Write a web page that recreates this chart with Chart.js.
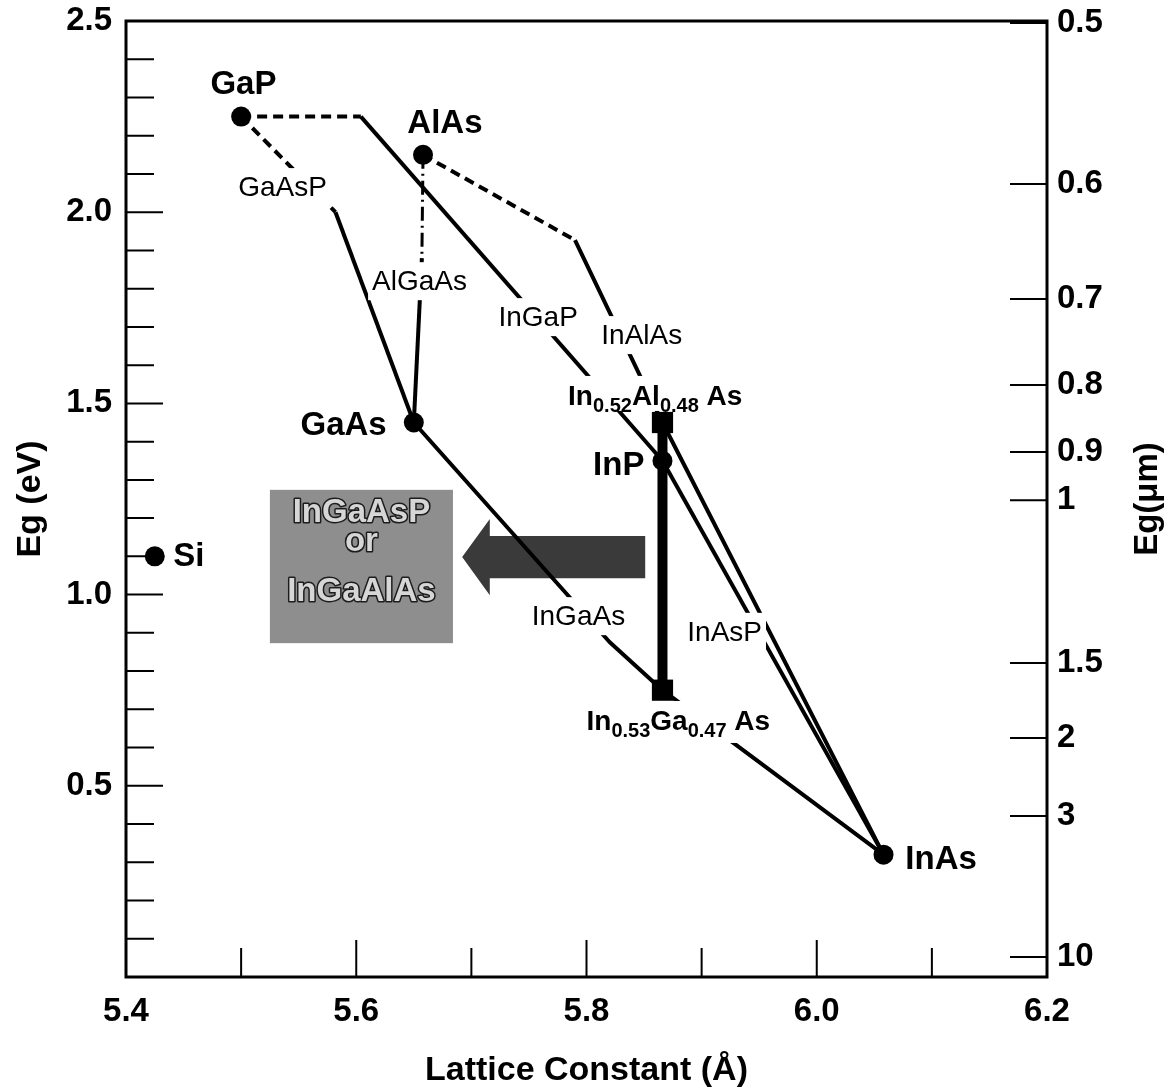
<!DOCTYPE html>
<html>
<head>
<meta charset="utf-8">
<title>Band gap vs lattice constant</title>
<script src="https://cdn.jsdelivr.net/npm/chart.js@4.4.1/dist/chart.umd.min.js"></script>
<style>
	html, body { margin: 0; padding: 0; background: #fff; }
	canvas { display: block; }
</style>
</head>
<body>
<canvas id="chart" width="1175" height="1091"></canvas>
<script>
'use strict';

// binary compounds: lattice constant (A) and band gap (eV)
const binaryNames = ['Si', 'GaP', 'AlAs', 'GaAs', 'InP', 'InAs'];
const binaryA = [5.425, 5.50, 5.658, 5.65, 5.866, 6.058];
const binaryEg = [1.10, 2.25, 2.15, 1.45, 1.35, 0.32];

// alloys lattice matched to InP
const matchedNames = ['In0.52Al0.48As', 'In0.53Ga0.47As'];
const matchedA = [5.866, 5.866];
const matchedEg = [1.45, 0.75];

// ternary curves, dashed part = indirect gap, solid part = direct gap
const gaAsPIndirect = [[5.50, 2.25], [5.582, 2.00]];
const gaAsPDirect = [[5.582, 2.00], [5.65, 1.45]];
const alGaAsIndirect = [[5.658, 2.15], [5.657, 1.88]];
const alGaAsDirect = [[5.657, 1.88], [5.65, 1.45]];
const inGaPIndirect = [[5.50, 2.25], [5.604, 2.25]];
const inGaPDirect = [[5.604, 2.25], [5.866, 1.35]];
const inAlAsIndirect = [[5.658, 2.15], [5.79, 1.927]];
const inAlAsDirect = [[5.79, 1.927], [5.866, 1.45], [6.058, 0.32]];
const inGaAsCurve = [[5.65, 1.45], [5.82, 0.876], [5.866, 0.75], [6.058, 0.32]];
const inAsPCurve = [[5.866, 1.35], [6.058, 0.32]];

// axis ticks
const aTicks = [5.4, 5.6, 5.8, 6.0, 6.2];
const aTickLabels = ['5.4', '5.6', '5.8', '6.0', '6.2'];
const aMinorTicks = [5.5, 5.7, 5.9, 6.1];
const egTicks = [0.5, 1.0, 1.5, 2.0, 2.5];
const egTickLabels = ['0.5', '1.0', '1.5', '2.0', '2.5'];
const egMinorTicks = [0.1, 0.2, 0.3, 0.4, 0.6, 0.7, 0.8, 0.9, 1.1, 1.2, 1.3, 1.4, 1.6, 1.7, 1.8, 1.9, 2.1, 2.2, 2.3, 2.4];
const lambdaTickEg = [2.495, 2.074, 1.773, 1.548, 1.373, 1.247, 0.821, 0.625, 0.421, 0.052];
const lambdaTickLabels = ['0.5', '0.6', '0.7', '0.8', '0.9', '1', '1.5', '2', '3', '10'];

const FONT = "'Liberation Sans', Arial, Helvetica, sans-serif";
Chart.defaults.font.family = FONT;
Chart.defaults.color = '#000';

// where the annotation texts sit, in axis units
const pointLabels = [
	{ text: 'Si', a: 5.441, eg: 1.098, align: 'left' },
	{ text: 'GaP', a: 5.502, eg: 2.333 },
	{ text: 'AlAs', a: 5.677, eg: 2.231 },
	{ text: 'GaAs', a: 5.589, eg: 1.441 },
	{ text: 'InP', a: 5.828, eg: 1.336 },
	{ text: 'InAs', a: 6.108, eg: 0.306 }
];
const curveLabels = [
	{ text: 'GaAsP', a: 5.536, eg: 2.063 },
	{ text: 'AlGaAs', a: 5.655, eg: 1.817 },
	{ text: 'InGaP', a: 5.758, eg: 1.723 },
	{ text: 'InAlAs', a: 5.848, eg: 1.676 },
	{ text: 'InGaAs', a: 5.793, eg: 0.941 },
	{ text: 'InAsP', a: 5.920, eg: 0.900 }
];
const matchedLabelPos = [{ a: 5.784, eg: 1.496 }, { a: 5.800, eg: 0.646 }];
const grayBox = { a0: 5.525, a1: 5.684, eg0: 0.873, eg1: 1.274 };
const grayBoxLines = [['InGaAsP', 1.213], ['or', 1.138], ['InGaAlAs', 1.007]];
const bigArrow = { tip: 5.692, head: 5.716, tail: 5.851, eg: 1.098, shaft: 0.055, wing: 0.10 };

const toXY = (pts) => pts.map((p) => ({ x: p[0], y: p[1] }));

function curve(pts, width, dash) {
	return {
		data: toXY(pts),
		showLine: true,
		borderColor: '#000',
		backgroundColor: '#000',
		borderWidth: width,
		borderDash: dash || [],
		borderJoinStyle: 'round',
		pointRadius: 0,
		pointHoverRadius: 0,
		fill: false
	};
}

function zeroPadding(scale) {
	scale.paddingTop = 0;
	scale.paddingBottom = 0;
	scale.paddingLeft = 0;
	scale.paddingRight = 0;
}

function splitFormula(name) {
	// 'In0.52Al0.48As' -> [['In',0],['0.52',1],['Al',0],['0.48',1],[' As',0]]
	const parts = [];
	const re = /([A-Z][a-z]?)([\d.]*)/g;
	let m;
	while ((m = re.exec(name)) !== null) {
		parts.push([m[1], 0]);
		if (m[2]) parts.push([m[2], 1]);
	}
	parts[parts.length - 1][0] = ' ' + parts[parts.length - 1][0];
	return parts;
}

const decorPlugin = {
	id: 'decor',
	beforeDatasetsDraw(chart) {
		const ctx = chart.ctx;
		const xs = chart.scales.x;
		const ys = chart.scales.y;
		ctx.save();
		// gray box with the quaternary names
		const bx0 = xs.getPixelForValue(grayBox.a0);
		const bx1 = xs.getPixelForValue(grayBox.a1);
		const by0 = ys.getPixelForValue(grayBox.eg1);
		const by1 = ys.getPixelForValue(grayBox.eg0);
		ctx.fillStyle = '#8e8e8e';
		ctx.fillRect(bx0, by0, bx1 - bx0, by1 - by0);
		ctx.font = 'bold 33px ' + FONT;
		ctx.textAlign = 'center';
		ctx.textBaseline = 'middle';
		ctx.lineWidth = 3;
		ctx.lineJoin = 'round';
		ctx.strokeStyle = '#1c1c1c';
		ctx.fillStyle = '#d6d6d6';
		const cx = (bx0 + bx1) / 2;
		grayBoxLines.forEach(function (line) {
			const y = ys.getPixelForValue(line[1]);
			ctx.strokeText(line[0], cx, y);
			ctx.fillText(line[0], cx, y);
		});
		// big arrow pointing left
		const tipX = xs.getPixelForValue(bigArrow.tip);
		const headX = xs.getPixelForValue(bigArrow.head);
		const tailX = xs.getPixelForValue(bigArrow.tail);
		const midY = ys.getPixelForValue(bigArrow.eg);
		const sTop = ys.getPixelForValue(bigArrow.eg + bigArrow.shaft);
		const sBot = ys.getPixelForValue(bigArrow.eg - bigArrow.shaft);
		const wTop = ys.getPixelForValue(bigArrow.eg + bigArrow.wing);
		const wBot = ys.getPixelForValue(bigArrow.eg - bigArrow.wing);
		ctx.beginPath();
		ctx.moveTo(tipX, midY);
		ctx.lineTo(headX, wTop);
		ctx.lineTo(headX, sTop);
		ctx.lineTo(tailX, sTop);
		ctx.lineTo(tailX, sBot);
		ctx.lineTo(headX, sBot);
		ctx.lineTo(headX, wBot);
		ctx.closePath();
		ctx.fillStyle = '#3a3a3a';
		ctx.fill();
		ctx.restore();
	},
	afterDatasetsDraw(chart) {
		const ctx = chart.ctx;
		const xs = chart.scales.x;
		const ys = chart.scales.y;
		ctx.save();
		ctx.textBaseline = 'middle';
		// curve names, cut out of the lines
		ctx.font = '28px ' + FONT;
		ctx.textAlign = 'center';
		curveLabels.forEach(function (l) {
			const x = xs.getPixelForValue(l.a);
			const y = ys.getPixelForValue(l.eg);
			const w = ctx.measureText(l.text).width;
			ctx.fillStyle = '#fff';
			ctx.fillRect(x - w / 2 - 4, y - 20, w + 8, 38);
			ctx.fillStyle = '#000';
			ctx.fillText(l.text, x, y);
		});
		// binary names
		ctx.font = 'bold 33px ' + FONT;
		pointLabels.forEach(function (l) {
			ctx.textAlign = l.align || 'center';
			ctx.fillText(l.text, xs.getPixelForValue(l.a), ys.getPixelForValue(l.eg));
		});
		// lattice matched alloys with subscripts
		ctx.textAlign = 'left';
		ctx.textBaseline = 'alphabetic';
		matchedNames.forEach(function (name, i) {
			const parts = splitFormula(name);
			const x0 = xs.getPixelForValue(matchedLabelPos[i].a);
			const base = ys.getPixelForValue(matchedLabelPos[i].eg);
			let width = 0;
			parts.forEach(function (p) {
				ctx.font = p[1] ? 'bold 20px ' + FONT : 'bold 28px ' + FONT;
				width += ctx.measureText(p[0]).width;
			});
			ctx.fillStyle = '#fff';
			ctx.fillRect(x0 - 5, base - 29, width + 10, i === 0 ? 35 : 42);
			ctx.fillStyle = '#000';
			let x = x0;
			parts.forEach(function (p) {
				ctx.font = p[1] ? 'bold 20px ' + FONT : 'bold 28px ' + FONT;
				ctx.fillText(p[0], x, p[1] ? base + 7 : base);
				x += ctx.measureText(p[0]).width;
			});
		});
		ctx.restore();
	},
	afterDraw(chart) {
		const ctx = chart.ctx;
		const area = chart.chartArea;
		const xs = chart.scales.x;
		const ys = chart.scales.y;
		const ys2 = chart.scales.y2;
		ctx.save();
		ctx.strokeStyle = '#000';
		ctx.lineWidth = 2;
		ctx.beginPath();
		aTicks.forEach(function (v) {
			const px = xs.getPixelForValue(v);
			if (px > area.left + 2 && px < area.right - 2) {
				ctx.moveTo(px, area.bottom);
				ctx.lineTo(px, area.bottom - 37);
			}
		});
		aMinorTicks.forEach(function (v) {
			const px = xs.getPixelForValue(v);
			ctx.moveTo(px, area.bottom);
			ctx.lineTo(px, area.bottom - 29);
		});
		egTicks.forEach(function (v) {
			const py = ys.getPixelForValue(v);
			if (py > area.top + 2) {
				ctx.moveTo(area.left, py);
				ctx.lineTo(area.left + 37, py);
			}
		});
		egMinorTicks.forEach(function (v) {
			const py = ys.getPixelForValue(v);
			ctx.moveTo(area.left, py);
			ctx.lineTo(area.left + 28, py);
		});
		lambdaTickEg.forEach(function (v) {
			const py = ys2.getPixelForValue(v);
			ctx.moveTo(area.right, py);
			ctx.lineTo(area.right - 37, py);
		});
		ctx.stroke();
		// frame
		ctx.lineWidth = 3;
		ctx.strokeRect(area.left, area.top, area.right - area.left, area.bottom - area.top);
		// right axis title reads bottom to top
		ctx.translate(chart.width - 27, (area.top + area.bottom) / 2);
		ctx.rotate(-Math.PI / 2);
		ctx.font = 'bold 33px ' + FONT;
		ctx.fillStyle = '#000';
		ctx.textAlign = 'center';
		ctx.textBaseline = 'middle';
		ctx.fillText('Eg(\u03bcm)', 0, 0);
		ctx.restore();
	}
};

const binaryPoints = binaryA.map((a, i) => ({ x: a, y: binaryEg[i] }));
const matchedPoints = matchedA.map((a, i) => ({ x: a, y: matchedEg[i] }));

const datasets = [
	{
		label: 'binaries',
		data: binaryPoints,
		showLine: false,
		pointRadius: 10,
		pointHoverRadius: 10,
		pointBackgroundColor: '#000',
		pointBorderWidth: 0
	},
	{
		label: 'lattice matched',
		data: matchedPoints,
		showLine: false,
		pointStyle: 'rect',
		pointRadius: 15,
		pointHoverRadius: 15,
		pointBackgroundColor: '#000',
		pointBorderWidth: 0
	},
	Object.assign(curve([[matchedA[0], matchedEg[0]], [matchedA[1], matchedEg[1]]], 10), { borderJoinStyle: 'miter' }),
	curve(gaAsPIndirect, 4, [10, 6]),
	curve(gaAsPDirect, 4),
	curve(alGaAsIndirect, 3, [14, 5, 2, 5]),
	curve(alGaAsDirect, 4),
	curve(inGaPIndirect, 4, [10, 6]),
	curve(inGaPDirect, 4),
	curve(inAlAsIndirect, 4, [10, 6]),
	curve(inAlAsDirect, 4),
	curve(inGaAsCurve, 4),
	curve(inAsPCurve, 4)
];

new Chart(document.getElementById('chart'), {
	type: 'scatter',
	data: { datasets: datasets },
	plugins: [decorPlugin],
	options: {
		responsive: false,
		animation: false,
		devicePixelRatio: 1,
		layout: { padding: { top: 21, left: 0, right: 0, bottom: 0 } },
		plugins: {
			legend: { display: false },
			tooltip: { enabled: false }
		},
		scales: {
			x: {
				type: 'linear',
				position: 'bottom',
				min: 5.4,
				max: 6.2,
				afterBuildTicks: (scale) => { scale.ticks = aTicks.map((v) => ({ value: v })); },
				afterFit: (scale) => { scale.height = 114; zeroPadding(scale); },
				ticks: {
					autoSkip: false,
					maxRotation: 0,
					padding: 15,
					font: { size: 33, weight: 'bold' },
					callback: (value, index) => aTickLabels[index]
				},
				grid: { display: false, drawTicks: false },
				border: { display: false },
				title: {
					display: true,
					text: 'Lattice Constant (\u00c5)',
					font: { size: 34, weight: 'bold' },
					padding: { top: 0, bottom: 0 }
				}
			},
			y: {
				type: 'linear',
				position: 'left',
				min: 0,
				max: 2.5,
				afterBuildTicks: (scale) => { scale.ticks = egTicks.map((v) => ({ value: v })); },
				afterFit: (scale) => { scale.width = 126; zeroPadding(scale); },
				ticks: {
					autoSkip: false,
					padding: 14,
					font: { size: 33, weight: 'bold' },
					callback: (value, index) => egTickLabels[index]
				},
				grid: { display: false, drawTicks: false },
				border: { display: false },
				title: {
					display: true,
					text: 'Eg (eV)',
					font: { size: 34, weight: 'bold' },
					padding: { top: 10, bottom: 0 }
				}
			},
			y2: {
				type: 'linear',
				position: 'right',
				min: 0,
				max: 2.5,
				afterBuildTicks: (scale) => { scale.ticks = lambdaTickEg.map((v) => ({ value: v })); },
				afterFit: (scale) => { scale.width = 128; zeroPadding(scale); },
				ticks: {
					autoSkip: false,
					padding: 10,
					font: { size: 33, weight: 'bold' },
					callback: (value, index) => lambdaTickLabels[index]
				},
				grid: { display: false, drawTicks: false },
				border: { display: false }
			}
		}
	}
});
</script>
</body>
</html>
